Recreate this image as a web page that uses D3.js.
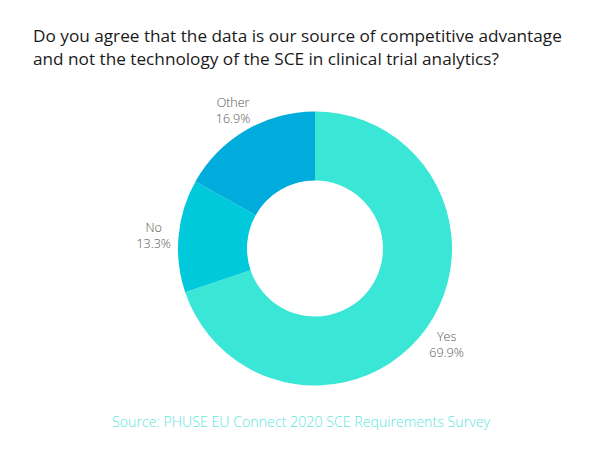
<!DOCTYPE html>
<html><head><meta charset="utf-8">
<script src="https://cdn.jsdelivr.net/npm/d3@7"></script>
<style>body{margin:0;background:#fff;}svg{display:block;}</style>
</head><body>
<svg id="c" width="600" height="450"></svg>
<script>
const categories = ["Yes", "No", "Other"];
const values = [69.9, 13.3, 16.9];
const colors = ["#3ae6d6", "#00c9db", "#00acdc"];
const titleLines = ["Do you agree that the data is our source of competitive advantage",
                    "and not the technology of the SCE in clinical trial analytics?"];
const sourceText = "Source: PHUSE EU Connect 2020 SCE Requirements Survey";

const svg = d3.select("#c");
const font = "'Open Sans', sans-serif";

svg.selectAll("text.title").data(titleLines).enter().append("text")
  .attr("class","title")
  .attr("x", 33).attr("y", (d,i)=>41.5 + i*23)
  .attr("font-family", font).attr("font-size", 17.2).attr("fill", "#1a1a1a")
  .text(d=>d);

const cx = 315, cy = 248.5, R = 137, r = 68;
const data = categories.map((c,i)=>({cat:c, val:values[i], color:colors[i]}));
const pie = d3.pie().value(d=>d.val).sort(null);
const arc = d3.arc().innerRadius(r).outerRadius(R);
const labelArc = d3.arc().innerRadius(162).outerRadius(162);
const g = svg.append("g").attr("transform", `translate(${cx},${cy})`);
const arcs = pie(data);
g.selectAll("path").data(arcs).enter().append("path")
  .attr("d", arc).attr("fill", d=>d.data.color);

const lab = g.selectAll("g.lab").data(arcs).enter().append("g")
  .attr("class","lab")
  .attr("transform", d=>`translate(${labelArc.centroid(d)})`);
lab.append("text").attr("y",-2).attr("text-anchor","middle")
  .attr("font-family", font).attr("font-weight", 300).attr("font-size", 12.5).attr("fill", "#555")
  .text(d=>d.data.cat);
lab.append("text").attr("y",14).attr("text-anchor","middle")
  .attr("font-family", font).attr("font-weight", 300).attr("font-size", 12.5).attr("fill", "#555")
  .text(d=>d.data.val.toFixed(1)+"%");

svg.append("text").attr("x", 301).attr("y", 427).attr("text-anchor","middle")
  .attr("font-family", font).attr("font-weight", 300).attr("font-size", 14.2).attr("fill", "#5ee6dc")
  .text(sourceText);
</script>
</body></html>
